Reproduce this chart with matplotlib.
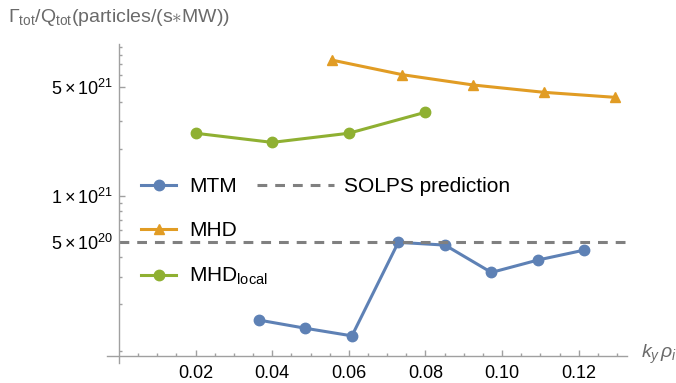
import numpy as np
import matplotlib
matplotlib.use("Agg")
import matplotlib.pyplot as plt
from matplotlib.ticker import NullFormatter

plt.rcParams['font.family'] = ['Liberation Sans', 'DejaVu Sans']
plt.rcParams['mathtext.fontset'] = 'custom'
plt.rcParams['mathtext.rm'] = 'Liberation Sans'
plt.rcParams['mathtext.it'] = 'Liberation Sans:italic'
plt.rcParams['mathtext.bf'] = 'Liberation Sans:bold'

# data
mtm_k = [0.0365, 0.0486, 0.0608, 0.0729, 0.0851, 0.0972, 0.1094, 0.1215]
mtm_val = [1.58e20, 1.40e20, 1.25e20, 5.0e20, 4.8e20, 3.2e20, 3.85e20, 4.46e20]

mhd_k = [0.0555, 0.074, 0.0925, 0.111, 0.1295]
mhd_val = [7.46e21, 6.0e21, 5.15e21, 4.62e21, 4.29e21]

local_k = [0.02, 0.04, 0.06, 0.08]
local_val = [2.52e21, 2.20e21, 2.52e21, 3.44e21]

solps = 5e20

y_major = [5e20, 1e21, 5e21]
y_major_labels = [r'$5\times10^{20}$', r'$1\times10^{21}$', r'$5\times10^{21}$']
x_major = [0.02, 0.04, 0.06, 0.08, 0.10, 0.12]
x_major_labels = ['0.02', '0.04', '0.06', '0.08', '0.10', '0.12']

blue = '#5E81B5'
orange = '#E19C24'
green = '#8FB032'
axis_gray = '#A0A0A0'
text_gray = '#6A6A6A'

W, H = 676, 383
fig = plt.figure(figsize=(W / 100, H / 100), dpi=100)
ax = fig.add_axes([107 / W, (H - 363) / H, (627 - 107) / W, (363 - 44) / H])
ax.set_yscale('log')

lw = 2.2
l_mtm, = ax.plot(mtm_k, mtm_val, color=blue, lw=lw, marker='o', ms=7.5, clip_on=False)
l_mhd, = ax.plot(mhd_k, mhd_val, color=orange, lw=lw, marker='^', ms=7.5, clip_on=False)
l_loc, = ax.plot(local_k, local_val, color=green, lw=lw, marker='o', ms=7.5, clip_on=False)
l_sol, = ax.plot([0, 0.1326], [solps, solps], color='#808080', lw=lw,
                 linestyle=(0, (3.2, 2.6)))

for s in ['top', 'right']:
    ax.spines[s].set_visible(False)
ax.spines['left'].set_position(('data', 0))
ax.spines['bottom'].set_position(('data', 9.27e19))
for s in ['left', 'bottom']:
    ax.spines[s].set_color(axis_gray)
    ax.spines[s].set_linewidth(1.0)

minor_y = [k * 10.0 ** e for e in (20, 21) for k in range(1, 10)]
minor_y = [v for v in minor_y if v not in y_major]
ax.set_yticks(y_major)
ax.set_yticklabels(y_major_labels)
ax.set_yticks(minor_y, minor=True)
ax.yaxis.set_minor_formatter(NullFormatter())
ax.set_xticks(x_major)
ax.set_xticklabels(x_major_labels)
ax.set_xticks(np.arange(0.005, 0.1326, 0.005), minor=True)
ax.set_xlim(-0.00313, 0.1326)
ax.set_ylim(8.36e19, 9.46e21)
ax.tick_params(which='both', direction='in', color=axis_gray, labelsize=13, width=1.0)
ax.tick_params(which='major', length=4.5)
ax.tick_params(which='minor', length=2.5)
ax.tick_params(axis='y', which='major', pad=4)
ax.tick_params(axis='x', which='major', pad=6.5)

fig.text(8 / W, 1 - 18 / H, r'$\mathrm{\Gamma_{tot}/Q_{tot}}$(particles/(s$\ast$MW))',
         color=text_gray, fontsize=14, va='center', ha='left')
fig.text(641 / W, 1 - 354 / H, r'$k_y\,\rho_i$', color=text_gray, fontsize=14,
         va='center', ha='left')

leg1 = ax.legend([l_mtm, l_mhd, l_loc], ['MTM', 'MHD', r'MHD$_{\mathrm{local}}$'],
                 loc='upper left', bbox_to_anchor=(141 / W, 1 - 177 / H),
                 bbox_transform=fig.transFigure, frameon=False, fontsize=15,
                 handlelength=1.7, handletextpad=0.6, labelspacing=1.22,
                 borderpad=0, borderaxespad=0)
ax.add_artist(leg1)
ax.legend([l_sol], ['SOLPS prediction'], loc='upper left',
          bbox_to_anchor=(257 / W, 1 - 177 / H), bbox_transform=fig.transFigure,
          frameon=False, fontsize=15, handlelength=3.7, handletextpad=0.5,
          borderpad=0, borderaxespad=0)

fig.savefig('out.png', dpi=100)
